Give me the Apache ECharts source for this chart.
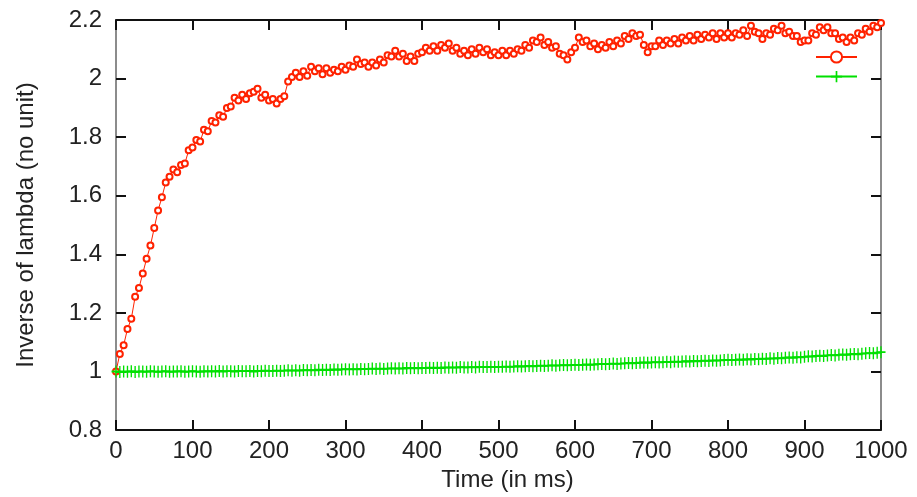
<!DOCTYPE html>
<html><head><meta charset="utf-8">
<script src="https://cdn.jsdelivr.net/npm/echarts@6/dist/echarts.min.js"></script>
<style>html,body{margin:0;padding:0;background:#fff}#c{width:917px;height:497px}</style>
</head><body><div id="c"></div>
<script>
// Time axis (ms)
const timeMs = [0,5,10,15,20,25,30,35,40,45,50,55,60,65,70,75,80,85,90,95,
100,105,110,115,120,125,130,135,140,145,150,155,160,165,170,175,180,185,190,195,
200,205,210,215,220,225,230,235,240,245,250,255,260,265,270,275,280,285,290,295,
300,305,310,315,320,325,330,335,340,345,350,355,360,365,370,375,380,385,390,395,
400,405,410,415,420,425,430,435,440,445,450,455,460,465,470,475,480,485,490,495,
500,505,510,515,520,525,530,535,540,545,550,555,560,565,570,575,580,585,590,595,
600,605,610,615,620,625,630,635,640,645,650,655,660,665,670,675,680,685,690,695,
700,705,710,715,720,725,730,735,740,745,750,755,760,765,770,775,780,785,790,795,
800,805,810,815,820,825,830,835,840,845,850,855,860,865,870,875,880,885,890,895,
900,905,910,915,920,925,930,935,940,945,950,955,960,965,970,975,980,985,990,995,1000];

// Red series (open circles)
const inverseLambdaRed = [1.000,1.060,1.090,1.145,1.180,1.255,1.285,1.335,1.385,1.430,1.490,1.550,1.595,1.645,1.665,1.690,1.680,1.705,1.710,1.755,
1.765,1.790,1.785,1.825,1.820,1.855,1.850,1.875,1.870,1.900,1.905,1.935,1.925,1.945,1.930,1.950,1.955,1.965,1.935,1.945,
1.925,1.930,1.915,1.930,1.940,1.990,2.005,2.020,2.005,2.025,2.010,2.040,2.025,2.035,2.015,2.035,2.020,2.030,2.025,2.040,
2.030,2.045,2.040,2.065,2.050,2.055,2.040,2.055,2.045,2.065,2.055,2.080,2.075,2.095,2.075,2.085,2.060,2.075,2.060,2.085,
2.090,2.105,2.095,2.110,2.095,2.115,2.105,2.120,2.095,2.105,2.085,2.095,2.080,2.100,2.085,2.105,2.090,2.100,2.080,2.090,
2.080,2.095,2.080,2.095,2.085,2.100,2.095,2.115,2.105,2.130,2.125,2.140,2.115,2.125,2.105,2.110,2.085,2.080,2.065,2.090,
2.105,2.140,2.125,2.130,2.110,2.120,2.100,2.115,2.105,2.125,2.110,2.130,2.120,2.145,2.135,2.155,2.145,2.150,2.115,2.090,
2.110,2.110,2.130,2.115,2.130,2.120,2.135,2.120,2.140,2.130,2.145,2.130,2.150,2.135,2.150,2.140,2.155,2.135,2.155,2.140,
2.155,2.140,2.155,2.150,2.165,2.145,2.180,2.160,2.155,2.135,2.155,2.150,2.170,2.165,2.180,2.155,2.160,2.145,2.145,2.125,
2.130,2.130,2.155,2.150,2.175,2.165,2.175,2.155,2.155,2.135,2.140,2.125,2.140,2.130,2.155,2.150,2.170,2.160,2.180,2.175,2.190];

// Green series (plus marks)
const inverseLambdaGreen = [1.000,0.998,1.000,0.999,1.001,0.998,1.000,1.000,0.999,1.001,1.000,0.999,1.000,1.001,0.999,1.000,1.000,1.001,0.999,1.000,
1.001,1.000,0.999,1.001,1.000,1.001,1.000,1.002,1.000,1.001,1.001,1.000,1.002,1.001,1.001,1.002,1.000,1.002,1.001,1.003,
1.002,1.002,1.003,1.002,1.003,1.004,1.003,1.004,1.003,1.005,1.004,1.005,1.004,1.006,1.005,1.006,1.005,1.007,1.006,1.007,
1.008,1.007,1.008,1.007,1.009,1.008,1.009,1.010,1.009,1.010,1.009,1.010,1.011,1.010,1.011,1.010,1.012,1.011,1.012,1.011,
1.012,1.012,1.013,1.012,1.013,1.012,1.014,1.013,1.014,1.013,1.015,1.014,1.014,1.015,1.014,1.016,1.015,1.015,1.016,1.015,
1.016,1.016,1.017,1.016,1.017,1.018,1.017,1.018,1.019,1.018,1.019,1.020,1.019,1.020,1.021,1.020,1.021,1.022,1.021,1.022,
1.023,1.022,1.023,1.024,1.023,1.024,1.025,1.026,1.025,1.026,1.027,1.026,1.027,1.028,1.029,1.028,1.029,1.030,1.031,1.030,
1.031,1.032,1.031,1.032,1.033,1.032,1.034,1.033,1.034,1.035,1.034,1.036,1.035,1.036,1.037,1.036,1.038,1.037,1.038,1.039,
1.040,1.039,1.040,1.041,1.040,1.042,1.041,1.043,1.042,1.044,1.043,1.045,1.044,1.046,1.045,1.047,1.048,1.047,1.049,1.048,
1.050,1.052,1.051,1.053,1.054,1.053,1.055,1.056,1.055,1.057,1.058,1.057,1.059,1.060,1.059,1.061,1.062,1.063,1.062,1.064,1.066];

const xMin = 0, xMax = 1000, xStep = 100;
const yMin = 0.8, yMax = 2.2, yStep = 0.2;
const xTitle = 'Time (in ms)';
const yTitle = 'Inverse of lambda (no unit)';
const seriesNames = ['lambda A', 'lambda B'];

const font = 'Liberation Sans, Arial, sans-serif';
const red = '#ff2200', green = '#00e000';
const plusPath = 'path://M0,8.5h20v3h-20zM8.5,0h3v20h-3z';

function pairs(xs, ys) { return xs.map((x, i) => [x, ys[i]]); }

const chart = echarts.init(document.getElementById('c'), null, {renderer: 'canvas'});

const axisCommonX = {
  type: 'value', min: xMin, max: xMax, interval: xStep,
  splitLine: {show: false},
  axisLine: {show: true, onZero: false, lineStyle: {color: '#111', width: 2}},
  axisTick: {show: true, inside: true, length: 10, lineStyle: {color: '#111', width: 2}}
};
const axisCommonY = {
  type: 'value', min: yMin, max: yMax, interval: yStep,
  splitLine: {show: false},
  axisLine: {show: true, onZero: false, lineStyle: {color: '#666', width: 1.5}},
  axisTick: {show: true, inside: true, length: 10, lineStyle: {color: '#111', width: 2}}
};

chart.setOption({
  animation: false,
  backgroundColor: '#fff',
  grid: {left: 116, right: 36, top: 20, bottom: 65, containLabel: false},
  legend: {
    orient: 'vertical', right: 54, top: 45, itemWidth: 41, itemHeight: 14, itemGap: 6,
    formatter: () => '', data: seriesNames, textStyle: {fontSize: 1}
  },
  xAxis: [
    Object.assign({}, axisCommonX, {
      position: 'bottom',
      axisLabel: {fontSize: 24, color: '#222', margin: 9, fontFamily: font, formatter: v => String(v)},
      name: xTitle, nameLocation: 'middle', nameGap: 36,
      nameTextStyle: {fontSize: 24, color: '#222', fontFamily: font, padding: [0, 0, 0, 18]}
    }),
    Object.assign({}, axisCommonX, {position: 'top', axisLabel: {show: false}})
  ],
  yAxis: [
    Object.assign({}, axisCommonY, {
      position: 'left',
      axisLabel: {fontSize: 24, color: '#222', margin: 14, fontFamily: font},
      name: yTitle, nameLocation: 'middle', nameGap: 78, nameRotate: 90,
      nameTextStyle: {fontSize: 24, color: '#222', fontFamily: font}
    }),
    Object.assign({}, axisCommonY, {position: 'right', axisLabel: {show: false}})
  ],
  series: [
    {
      name: seriesNames[0], type: 'line', xAxisIndex: 0, yAxisIndex: 0,
      data: pairs(timeMs, inverseLambdaRed),
      showSymbol: true, showAllSymbol: true,
      symbol: 'emptyCircle', symbolSize: 6,
      lineStyle: {color: red, width: 1},
      itemStyle: {color: red, borderColor: red, borderWidth: 1},
      emphasis: {disabled: true}
    },
    {
      name: seriesNames[1], type: 'line', xAxisIndex: 0, yAxisIndex: 0,
      data: pairs(timeMs, inverseLambdaGreen),
      showSymbol: true, showAllSymbol: true,
      symbol: plusPath, symbolSize: [9, 12],
      lineStyle: {color: green, width: 1},
      itemStyle: {color: green},
      emphasis: {disabled: true}
    }
  ]
});
</script>
</body></html>
